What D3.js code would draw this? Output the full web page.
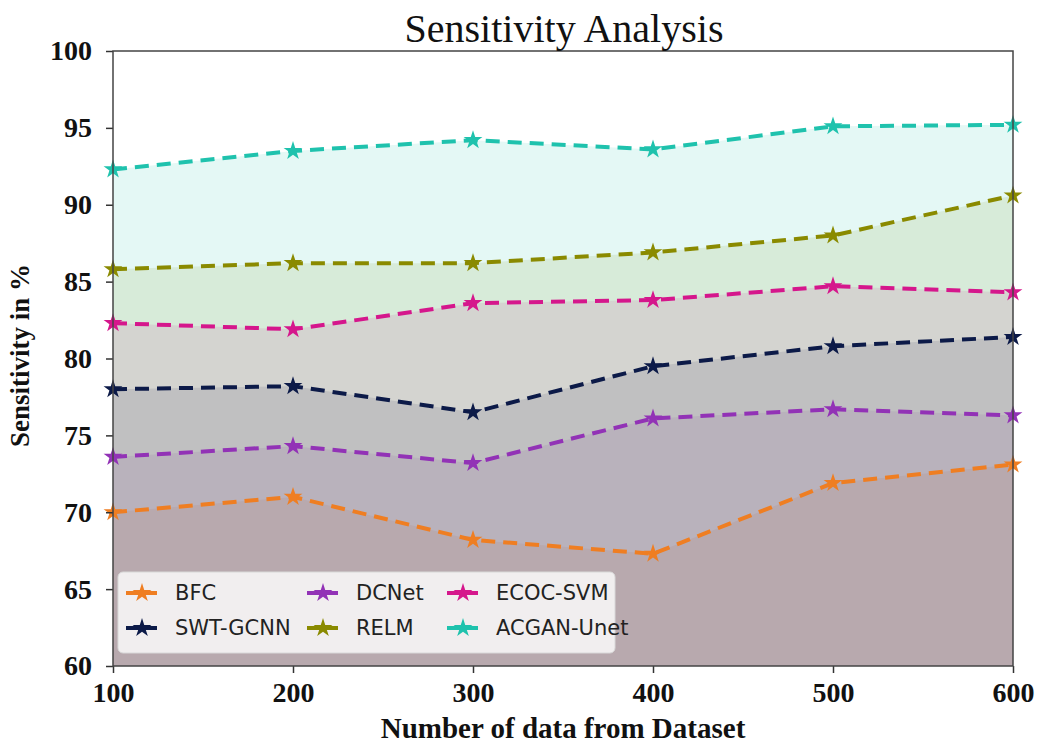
<!DOCTYPE html>
<html>
<head>
<meta charset="utf-8">
<script src="https://cdn.jsdelivr.net/npm/d3@7"></script>
<style>
  body { margin: 0; background: #fff; }
</style>
</head>
<body>
<svg id="plot"></svg>
<script>
// Data
const dataSizes = [100, 200, 300, 400, 500, 600];
const yTicks = [60, 65, 70, 75, 80, 85, 90, 95, 100];
const seriesNames = ["BFC", "SWT-GCNN", "DCNet", "RELM", "ECOC-SVM", "ACGAN-Unet"];
const seriesColors = ["#ef7e22", "#0c1a48", "#9232b6", "#8a8a00", "#d5178c", "#1fc2ad"];
const bfc = [70.0, 71.0, 68.2, 67.3, 71.9, 73.1];
const swtGcnn = [78.0, 78.2, 76.5, 79.5, 80.8, 81.4];
const dcnet = [73.6, 74.3, 73.2, 76.1, 76.7, 76.3];
const relm = [85.8, 86.2, 86.2, 86.9, 88.0, 90.6];
const ecocSvm = [82.3, 81.9, 83.6, 83.8, 84.7, 84.3];
const acganUnet = [92.3, 93.5, 94.2, 93.6, 95.1, 95.2];
const seriesValues = [bfc, swtGcnn, dcnet, relm, ecocSvm, acganUnet];

// Set the dimensions for the canvas
const W = 1037, H = 745;
const margin = {top: 51, right: 24, bottom: 79, left: 113},
      width = W - margin.left - margin.right,
      height = H - margin.top - margin.bottom;

const x = d3.scaleLinear().domain([100, 600]).range([0, width]);
const y = d3.scaleLinear().domain([60, 100]).range([height, 0]);

const svg = d3.select("#plot")
    .attr("width", W)
    .attr("height", H);

const g = svg.append("g")
    .attr("transform", "translate(" + margin.left + "," + margin.top + ")");

const series = seriesNames.map((name, i) => ({
  name: name,
  color: seriesColors[i],
  points: dataSizes.map((d, j) => ({x: d, y: seriesValues[i][j]}))
}));

// Filled areas under each line
const area = d3.area()
    .x(d => x(d.x))
    .y0(y(60))
    .y1(d => y(d.y));

g.selectAll(".fill")
    .data(series)
  .enter().append("path")
    .attr("class", "fill")
    .attr("d", d => area(d.points))
    .attr("fill", d => d.color)
    .attr("fill-opacity", 0.12);

// Dashed lines
const line = d3.line()
    .x(d => x(d.x))
    .y(d => y(d.y));

g.selectAll(".line")
    .data(series)
  .enter().append("path")
    .attr("class", "line")
    .attr("d", d => line(d.points))
    .attr("fill", "none")
    .attr("stroke", d => d.color)
    .attr("stroke-width", 4)
    .attr("stroke-dasharray", "14,8");

// Star markers
const star = d3.symbol().type(d3.symbolStar).size(110);
series.forEach(s => {
  g.selectAll(null)
      .data(s.points)
    .enter().append("path")
      .attr("d", star)
      .attr("transform", d => "translate(" + x(d.x) + "," + y(d.y) + ")")
      .attr("fill", s.color);
});

// Axes
const serif = "'Liberation Serif', 'Times New Roman', serif";

const xAxis = g.append("g")
    .attr("transform", "translate(0," + height + ")")
    .call(d3.axisBottom(x).tickValues(dataSizes).tickFormat(d3.format("d")).tickSize(7).tickPadding(9));

const yAxis = g.append("g")
    .call(d3.axisLeft(y).tickValues(yTicks).tickSize(7).tickPadding(14));

[xAxis, yAxis].forEach(a => {
  a.select(".domain").remove();
  a.selectAll("line").attr("stroke", "#333").attr("stroke-width", 1.5);
  a.selectAll("text")
      .attr("font-family", serif)
      .attr("font-weight", "bold")
      .attr("font-size", 28)
      .attr("fill", "#111");
});

// Frame
g.append("rect")
    .attr("width", width)
    .attr("height", height)
    .attr("fill", "none")
    .attr("stroke", "#444")
    .attr("stroke-width", 1.5);

// Title and labels
svg.append("text")
    .attr("x", margin.left + width / 2 + 1)
    .attr("y", 42)
    .attr("text-anchor", "middle")
    .attr("font-family", serif)
    .attr("font-size", 40)
    .attr("fill", "#111")
    .text("Sensitivity Analysis");

svg.append("text")
    .attr("x", margin.left + width / 2)
    .attr("y", 738)
    .attr("text-anchor", "middle")
    .attr("font-family", serif)
    .attr("font-weight", "bold")
    .attr("font-size", 29)
    .attr("fill", "#111")
    .text("Number of data from Dataset");

svg.append("text")
    .attr("transform", "translate(29," + (margin.top + height / 2 - 3) + ") rotate(-90)")
    .attr("text-anchor", "middle")
    .attr("font-family", serif)
    .attr("font-weight", "bold")
    .attr("font-size", 27)
    .attr("fill", "#111")
    .text("Sensitivity in %");

// Legend (3 columns, filled column by column)
const legend = svg.append("g").attr("transform", "translate(118,572)");
legend.append("rect")
    .attr("width", 497)
    .attr("height", 81)
    .attr("rx", 5)
    .attr("fill", "#ffffff")
    .attr("fill-opacity", 0.8)
    .attr("stroke", "#d8d8d8");

const colX = [8, 189, 329];
const rowY = [21, 56];
series.forEach((s, i) => {
  const item = legend.append("g")
      .attr("transform", "translate(" + colX[Math.floor(i / 2)] + "," + rowY[i % 2] + ")");
  item.append("line")
      .attr("x1", 0).attr("x2", 31)
      .attr("stroke", s.color)
      .attr("stroke-width", 4);
  item.append("path")
      .attr("d", star)
      .attr("transform", "translate(16,0)")
      .attr("fill", s.color);
  item.append("text")
      .attr("x", 49)
      .attr("dy", "0.35em")
      .attr("font-family", "'DejaVu Sans', sans-serif")
      .attr("font-size", 21)
      .attr("fill", "#222")
      .text(s.name);
});
</script>
</body>
</html>
